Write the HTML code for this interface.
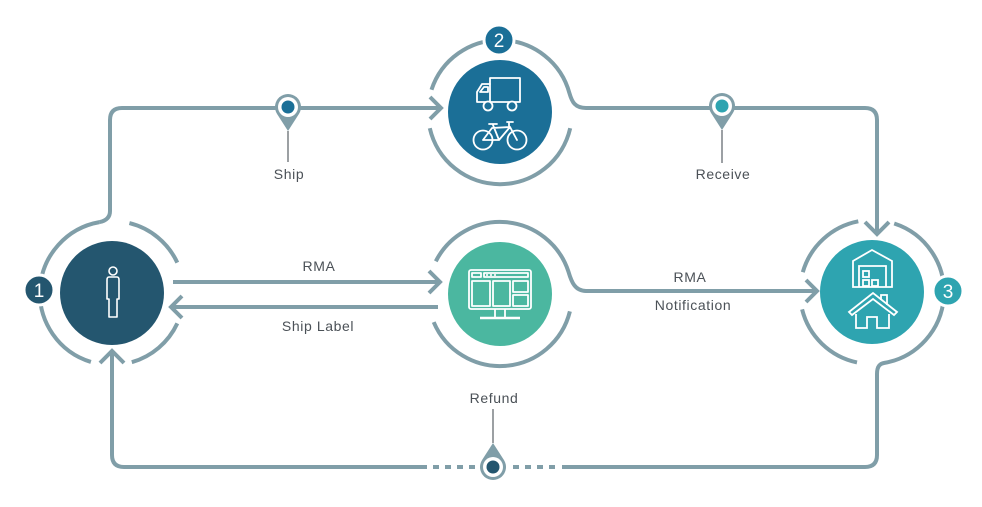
<!DOCTYPE html>
<html>
<head>
<meta charset="utf-8">
<style>
html,body{margin:0;padding:0;background:#fff;}
svg{display:block;}
text{font-family:"Liberation Sans",Arial,sans-serif;}
</style>
</head>
<body>
<svg width="982" height="507" viewBox="0 0 982 507" xmlns="http://www.w3.org/2000/svg">
<g fill="none" stroke="#809ea8" stroke-width="4">
  <!-- Node 1 ring + top path -->
  <path d="M 99.5 222.1 C 105 221, 110 218, 110 211 L 110 120 Q 110 108 122 108 L 440 108"/>
  <path d="M 99.5 222.1 A 72 72 0 0 0 90.9 361.9"/>
  <path d="M 129.4 223.1 A 72 72 0 0 1 177.3 262.6"/>
  <path d="M 177.3 323.4 A 72 72 0 0 1 131.8 362.2"/>
  <path d="M 430 97 L 441 108 L 430 119"/>

  <!-- RMA / Ship Label arrows -->
  <path d="M 173 282 L 439 282"/>
  <path d="M 429 271 L 440 282 L 429 293"/>
  <path d="M 438 307 L 172 307"/>
  <path d="M 182 296 L 171 307 L 182 318"/>

  <!-- Node 2 ring -->
  <path d="M 431.5 89.8 A 72 72 0 0 1 569.5 93.4 C 572 102, 575 108, 586 108 L 865 108 Q 877 108 877 120 L 877 233"/>
  <path d="M 865 222 L 877 234 L 889 222"/>
  <path d="M 429.8 128.2 A 72 72 0 0 0 570.2 128.2"/>

  <!-- Node 4 ring -->
  <path d="M 435.8 261.3 A 72 72 0 0 1 568.5 271.8 C 571.5 282, 575 291, 586 291 L 816 291"/>
  <path d="M 806 280 L 817 291 L 806 302"/>
  <path d="M 433.7 322.1 A 72 72 0 0 0 569.9 311.4"/>

  <!-- Node 3 ring -->
  <path d="M 802.8 272.2 A 72 72 0 0 1 858.3 221.3"/>
  <path d="M 894.2 223.5 A 72 72 0 0 1 884.5 362.9 C 880 363.7, 877 366, 877 374 L 877 455 Q 877 467 865 467 L 562 467"/>
  <path d="M 802.1 309.4 A 72 72 0 0 0 857.0 362.4"/>

  <!-- bottom return line -->
  <path d="M 427 467 L 124 467 Q 112 467 112 455 L 112 352"/>
  <path d="M 100 363 L 112 351 L 124 363"/>
  <path d="M 433 467 L 476 467" stroke-dasharray="6 6"/>
  <path d="M 513 467 L 556 467" stroke-dasharray="6 6"/>
</g>

<!-- Nodes -->
<circle cx="112" cy="293" r="52" fill="#24566f"/>
<circle cx="500" cy="112" r="52" fill="#1b6f97"/>
<circle cx="500" cy="294" r="52" fill="#4bb7a0"/>
<circle cx="872" cy="292" r="52" fill="#2ea4b0"/>

<!-- Badges -->
<circle cx="39" cy="290" r="15" fill="#24566f" stroke="#fff" stroke-width="3"/>
<text x="39" y="297" fill="#fff" font-size="19" text-anchor="middle">1</text>
<circle cx="499" cy="40" r="15" fill="#1b6f97" stroke="#fff" stroke-width="3"/>
<text x="499" y="47" fill="#fff" font-size="19" text-anchor="middle">2</text>
<circle cx="948" cy="291" r="15" fill="#2ea4b0" stroke="#fff" stroke-width="3"/>
<text x="948" y="298" fill="#fff" font-size="19" text-anchor="middle">3</text>

<!-- Person icon -->
<g fill="none" stroke="#fff" stroke-width="1.6" stroke-linejoin="round">
  <circle cx="113" cy="271" r="4"/>
  <path d="M 109 277 L 117 277 Q 119 277 119 280 L 119 299 L 117 299 L 117 317 L 109 317 L 109 299 L 107 299 L 107 280 Q 107 277 109 277 Z"/>
</g>

<!-- Truck + bike -->
<g fill="none" stroke="#fff" stroke-width="1.8" stroke-linejoin="round" stroke-linecap="round">
  <path d="M 490 78 L 520 78 L 520 102 L 490 102 Z"/>
  <path d="M 490 84 L 482 84 L 477 92 L 477 102 L 490 102"/>
  <path d="M 480 92 L 484 87 L 488 87 L 488 92 Z"/>
  <circle cx="488" cy="106" r="4.5" fill="#1b6f97"/>
  <circle cx="512" cy="106" r="4.5" fill="#1b6f97"/>
  <circle cx="483" cy="140" r="9.5"/>
  <circle cx="517" cy="140" r="9.5"/>
  <path d="M 483 140 L 499 140 L 493 125 M 499 140 L 510 127 L 492 128 L 483 140 M 510 127 L 517 140 M 489 124 L 497 124 M 509 122 L 509 127 M 507 122 L 513 122"/>
</g>

<!-- Monitor -->
<g fill="none" stroke="#fff" stroke-width="1.8" stroke-linejoin="round">
  <rect x="469" y="270" width="62" height="39" rx="2"/>
  <rect x="472" y="273" width="9" height="4"/>
  <rect x="484" y="273" width="44" height="4"/>
  <rect x="472" y="281" width="18" height="25"/>
  <rect x="493" y="281" width="17" height="25"/>
  <rect x="513" y="281" width="15" height="11"/>
  <rect x="513" y="295" width="15" height="11"/>
  <path d="M 495 309 L 495 317 M 505 309 L 505 317"/>
  <path d="M 480 318 L 520 318" stroke-width="2.5"/>
</g>
<g fill="#fff"><rect x="486" y="274.2" width="2" height="1.6"/><rect x="490" y="274.2" width="2" height="1.6"/><rect x="494" y="274.2" width="2" height="1.6"/></g>

<!-- Warehouse + house -->
<g fill="none" stroke="#fff" stroke-width="1.8" stroke-linejoin="miter">
  <path d="M 853 287 L 853 261 L 872 250 L 892 261 L 892 287 Z"/>
  <path d="M 859 287 L 859 266 L 886 266 L 886 287"/>
  <rect x="863" y="271" width="6" height="6"/>
  <rect x="863" y="280" width="6" height="6"/>
  <rect x="872" y="280" width="6" height="6"/>
  <path d="M 849 312 L 873 293 L 897 312 L 894 315 L 873 299 L 852 315 Z"/>
  <path d="M 856 314 L 856 328 L 867 328 L 867 317 L 877 317 L 877 328 L 889 328 L 889 314"/>
  <path d="M 881 300 L 881 295 L 887 295 L 887 305"/>
</g>

<!-- Markers -->
<g>
  <path d="M 288 131 L 298.93 114.04 A 13 13 0 1 0 277.07 114.04 Z" fill="#809ea8"/>
  <circle cx="288" cy="107" r="10" fill="#fff"/>
  <circle cx="288" cy="107" r="6.5" fill="#1b6f97"/>
  <path d="M 288 131 L 288 162" stroke="#5a6066" stroke-width="1.2"/>

  <path d="M 722 130 L 732.93 113.04 A 13 13 0 1 0 711.07 113.04 Z" fill="#809ea8"/>
  <circle cx="722" cy="106" r="10" fill="#fff"/>
  <circle cx="722" cy="106" r="6.5" fill="#2ea4b0"/>
  <path d="M 722 130 L 722 163" stroke="#5a6066" stroke-width="1.2"/>

  <path d="M 493 443 L 503.93 459.96 A 13 13 0 1 1 482.07 459.96 Z" fill="#809ea8"/>
  <circle cx="493" cy="467" r="10" fill="#fff"/>
  <circle cx="493" cy="467" r="6.5" fill="#24566f"/>
  <path d="M 493 409 L 493 443" stroke="#5a6066" stroke-width="1.2"/>
</g>

<!-- Labels -->
<g fill="#4b5157" font-size="14" text-anchor="middle" letter-spacing="0.6">
  <text x="289" y="179">Ship</text>
  <text x="723" y="179">Receive</text>
  <text x="494" y="403">Refund</text>
  <text x="319" y="271">RMA</text>
  <text x="318" y="331">Ship Label</text>
  <text x="690" y="282">RMA</text>
  <text x="693" y="310">Notification</text>
</g>
</svg>
</body>
</html>
